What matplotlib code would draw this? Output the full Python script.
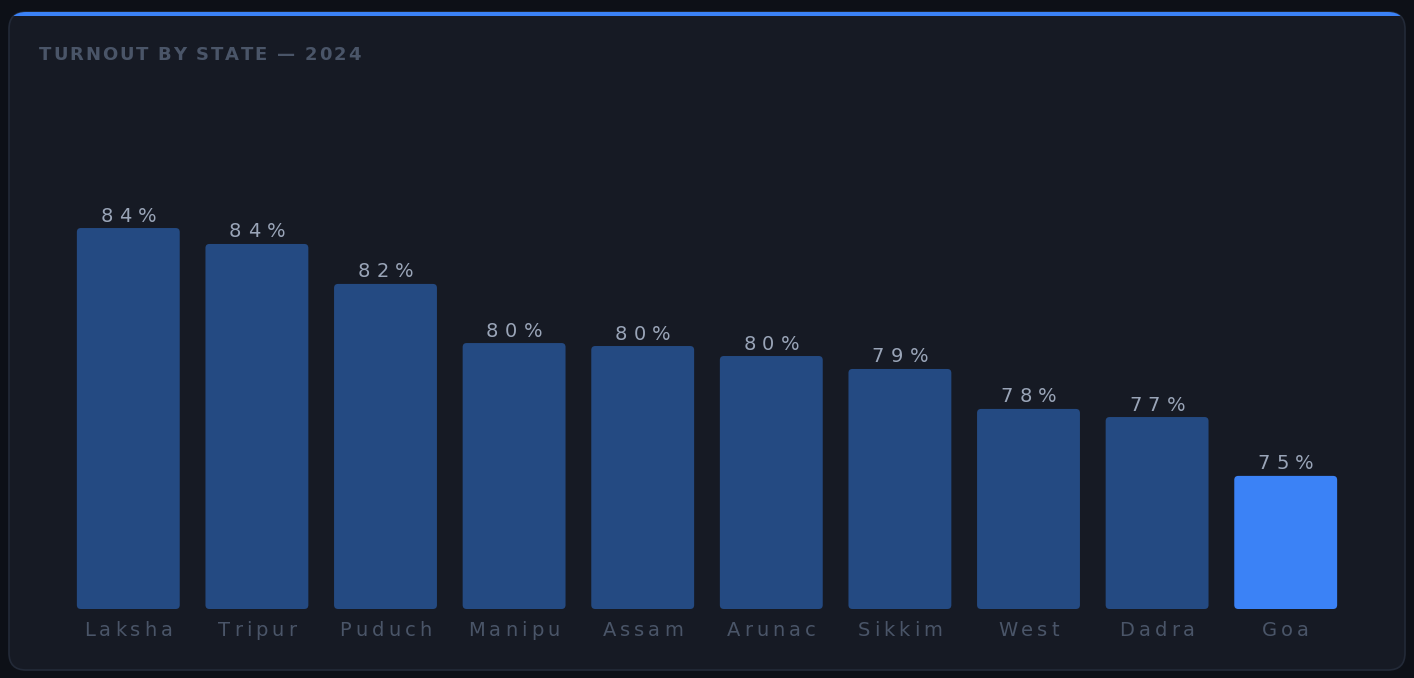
import matplotlib
matplotlib.use("Agg")
import matplotlib.pyplot as plt
from matplotlib.patches import FancyBboxPatch, Rectangle
from matplotlib.font_manager import FontProperties, findfont, get_font

states = ["Laksha", "Tripur", "Puduch", "Manipu", "Assam",
          "Arunac", "Sikkim", "West", "Dadra", "Goa"]
turnout = [84.45, 83.86, 82.38, 80.19, 80.08, 79.71, 79.23, 77.75, 77.45, 75.27]
highlight = "Goa"
title = "TURNOUT BY STATE \u2014 2024"

W, H = 1414, 678
DPI = 100
BG = "#0d1017"
CARD = "#161a24"
BAR = "#244a82"
HI = "#3b82f6"


def px_x(x):
    return x / W


def px_y(y):
    return 1 - y / H


def spaced_text(fig, x, y, s, size, spacing, color, weight="normal",
                ha="left", family="DejaVu Sans"):
    # draw text char by char with extra letter spacing (pixel coords, y from top)
    fp = FontProperties(family=family, size=size, weight=weight)
    font = get_font(findfont(fp))
    font.set_size(size, DPI)
    adv = []
    for ch in s:
        g = font.load_char(ord(ch))
        adv.append(g.linearHoriAdvance / 65536)
    total = sum(adv) + spacing * (len(s) - 1)
    if ha == "center":
        x = x - total / 2
    for ch, a in zip(s, adv):
        fig.text(px_x(x), px_y(y), ch, fontproperties=fp, color=color,
                 ha="left", va="center")
        x += a + spacing


fig = plt.figure(figsize=(W / DPI, H / DPI), dpi=DPI, facecolor=BG)

# card behind the axes
card = FancyBboxPatch((px_x(9), px_y(670)), px_x(1396), (670 - 12) / H,
                      boxstyle="round,pad=0,rounding_size=0.012",
                      mutation_aspect=W / H,
                      transform=fig.transFigure, facecolor=CARD,
                      edgecolor="#232a38", linewidth=1.2, zorder=-2)
fig.patches.append(card)
accent = Rectangle((px_x(9), px_y(16)), px_x(1396), 5 / H,
                   transform=fig.transFigure, facecolor=HI, edgecolor="none",
                   zorder=-1)
accent.set_clip_path(card)
fig.patches.append(accent)

spaced_text(fig, 39, 55, title, 13, 1.8, "#4a5568", weight="semibold")

# plot area
ax = fig.add_axes([px_x(64), px_y(609), px_x(1350 - 64), (609 - 100) / H])
ax.set_facecolor("none")
ymin = 70.34
ymax = ymin + 509 / 27
ax.set_xlim(-0.5, len(states) - 0.5)
ax.set_ylim(ymin, ymax)
ax.axis("off")

bw = 0.8
r = 4 / 128.6
aspect = (1 / 27) / (1 / 128.6)
for i, (name, v) in enumerate(zip(states, turnout)):
    col = HI if name == highlight else BAR
    bar = FancyBboxPatch((i - bw / 2, ymin), bw, v - ymin,
                         boxstyle=f"round,pad=0,rounding_size={r}",
                         mutation_aspect=aspect,
                         facecolor=col, edgecolor="none")
    ax.add_patch(bar)

fig.canvas.draw()
for i, (name, v) in enumerate(zip(states, turnout)):
    xd, yd = ax.transData.transform((i, v))
    spaced_text(fig, xd, H - yd - 12, f"{v:.0f}%", 14, 6.5, "#9aa5b8",
                ha="center")
    spaced_text(fig, xd, 630, name, 14, 4, "#4a5568", ha="center")

fig.savefig("out.png", dpi=DPI, facecolor=BG)
